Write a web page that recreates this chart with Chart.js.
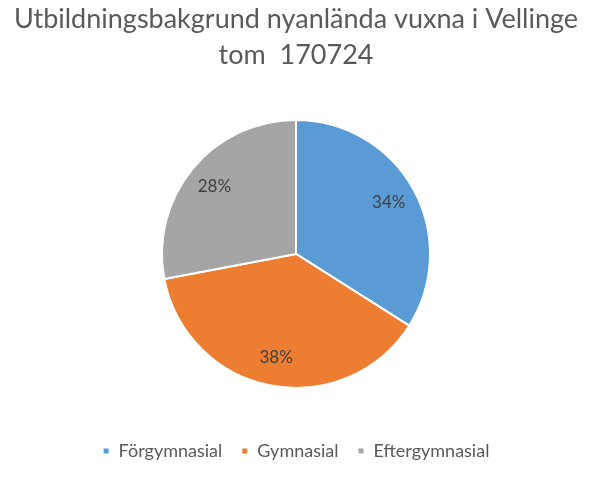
<!DOCTYPE html>
<html>
<head>
<meta charset="utf-8">
<script src="https://cdn.jsdelivr.net/npm/chart.js@4/dist/chart.umd.min.js"></script>
<style>
  html, body { margin: 0; padding: 0; background: #fff; }
  #wrap { width: 592px; height: 481px; }
</style>
</head>
<body>
<div id="wrap"><canvas id="chart" width="592" height="481"></canvas></div>
<script>
  const TITLE_LINES = ["Utbildningsbakgrund nyanlända vuxna i Vellinge", "tom  170724"];
  const CATEGORIES = ["Förgymnasial", "Gymnasial", "Eftergymnasial"];
  const SHARES = [34, 38, 28];
  const COLORS = ["#5B9BD5", "#ED7D31", "#A5A5A5"];

  const FONT = "Lato, 'Open Sans', sans-serif";

  // percent labels inside each slice
  const sliceLabels = {
    id: "sliceLabels",
    afterDatasetsDraw(chart) {
      const { ctx } = chart;
      const meta = chart.getDatasetMeta(0);
      const total = SHARES.reduce((a, b) => a + b, 0);
      ctx.save();
      ctx.font = "17px " + FONT;
      ctx.fillStyle = "#404040";
      ctx.textAlign = "center";
      ctx.textBaseline = "middle";
      meta.data.forEach((arc, i) => {
        const mid = (arc.startAngle + arc.endAngle) / 2;
        const r = arc.outerRadius * 0.79;
        const x = arc.x + Math.cos(mid) * r;
        const y = arc.y + Math.sin(mid) * r;
        ctx.fillText(Math.round((100 * SHARES[i]) / total) + "%", x, y);
      });
      ctx.restore();
    },
  };

  new Chart(document.getElementById("chart"), {
    type: "pie",
    data: {
      labels: CATEGORIES,
      datasets: [
        {
          data: SHARES,
          backgroundColor: COLORS,
          borderColor: "#ffffff",
          borderWidth: 2,
        },
      ],
    },
    options: {
      responsive: false,
      animation: false,
      radius: 134,
      layout: { padding: { top: 0, bottom: 11 } },
      plugins: {
        title: {
          display: true,
          text: TITLE_LINES,
          color: "#595959",
          font: { family: FONT, size: 27, weight: "normal", lineHeight: 1.33 },
          padding: { top: 1, bottom: 12 },
        },
        legend: {
          position: "bottom",
          labels: {
            color: "#595959",
            font: { family: FONT, size: 18 },
            boxWidth: 7,
            boxHeight: 7,
            padding: 19,
          },
        },
        tooltip: { enabled: false },
      },
    },
    plugins: [sliceLabels],
  });
</script>
</body>
</html>
